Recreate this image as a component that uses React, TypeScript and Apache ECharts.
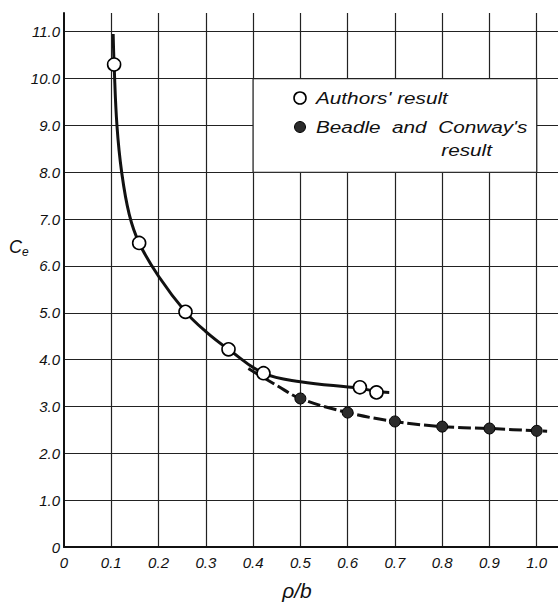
import React, { useEffect, useRef } from "react";
import * as echarts from "echarts";

// Open circles: authors' result
const authorsX = [0.106, 0.159, 0.257, 0.348, 0.422, 0.626, 0.661];
const authorsY = [10.3, 6.49, 5.02, 4.22, 3.71, 3.41, 3.3];
// Filled circles: Beadle and Conway's result
const beadleX = [0.5, 0.6, 0.7, 0.8, 0.9, 1.0];
const beadleY = [3.17, 2.87, 2.68, 2.57, 2.53, 2.48];
// Solid curve through the authors' points
const solidCurveX = [0.104, 0.106, 0.112, 0.122, 0.138, 0.159, 0.2, 0.257, 0.3, 0.348, 0.422, 0.5, 0.626, 0.661, 0.688];
const solidCurveY = [10.95, 10.3, 9.0, 8.0, 7.1, 6.49, 5.78, 5.02, 4.6, 4.22, 3.71, 3.53, 3.39, 3.32, 3.3];
// Dashed curve through Beadle and Conway's points
const dashedCurveX = [0.39, 0.45, 0.5, 0.6, 0.7, 0.8, 0.9, 1.0, 1.022];
const dashedCurveY = [3.81, 3.45, 3.17, 2.87, 2.68, 2.57, 2.53, 2.48, 2.47];
// Axis ranges
const xRange = [0, 1.045];
const yRange = [0, 11.4];
const xStep = 0.1;
const yStep = 1;
// Legend labels
const legendLabels = ["Authors' result", "Beadle  and  Conway's", "result"];
const xAxisName = "ρ/b";

const zip = (xs: number[], ys: number[]) => xs.map((x, i) => [x, ys[i]]);

const FONT = "'Liberation Sans', Arial, sans-serif";
const INK = "#111";

export default function App() {
  const ref = useRef<HTMLDivElement>(null);
  useEffect(() => {
    if (!ref.current) return;
    const chart = echarts.init(ref.current, null, { renderer: "svg" });
    const fmt = (v: number) => (Math.abs(v) < 1e-9 ? "0" : v.toFixed(1));
    const legendText = (text: string, x: number, y: number, align: string) => ({
      type: "text",
      x,
      y,
      scaleX: 1.22,
      z: 10,
      style: {
        text,
        fontFamily: FONT,
        fontStyle: "italic",
        fontSize: 17,
        fill: INK,
        textAlign: align,
        textVerticalAlign: "middle",
      },
    });
    chart.setOption({
      animation: false,
      backgroundColor: "#fff",
      grid: { left: 64, top: 13, right: 0, bottom: 55 },
      xAxis: {
        type: "value",
        min: xRange[0],
        max: xRange[1],
        interval: xStep,
        axisLine: { show: true, onZero: false, lineStyle: { color: INK, width: 2 } },
        axisTick: { show: false },
        axisLabel: {
          showMaxLabel: false,
          formatter: fmt,
          fontFamily: FONT,
          fontStyle: "italic",
          fontSize: 15,
          color: INK,
          margin: 8,
        },
        splitLine: { show: true, showMinLine: false, showMaxLine: false, lineStyle: { color: "#222", width: 1.2 } },
      },
      yAxis: {
        type: "value",
        min: yRange[0],
        max: yRange[1],
        interval: yStep,
        axisLine: { show: true, onZero: false, lineStyle: { color: INK, width: 2 } },
        axisTick: { show: false },
        axisLabel: {
          showMaxLabel: false,
          formatter: fmt,
          fontFamily: FONT,
          fontStyle: "italic",
          fontSize: 15,
          color: INK,
          margin: 4,
        },
        splitLine: { show: true, showMinLine: false, showMaxLine: false, lineStyle: { color: "#222", width: 1.2 } },
      },
      series: [
        {
          type: "line",
          data: zip(solidCurveX, solidCurveY),
          smooth: 0.4,
          symbol: "none",
          lineStyle: { color: INK, width: 3 },
          z: 3,
          markArea: {
            silent: true,
            itemStyle: { color: "#fff", borderColor: "#222", borderWidth: 1.2, opacity: 1 },
            data: [[{ coord: [0.4, 10] }, { coord: [1.0, 8] }]],
          },
        },
        {
          type: "line",
          data: zip(dashedCurveX, dashedCurveY),
          smooth: 0.4,
          symbol: "none",
          lineStyle: { color: INK, width: 3, type: [13, 4] },
          z: 3,
        },
        {
          type: "scatter",
          data: zip(beadleX, beadleY),
          symbol: "circle",
          symbolSize: 11,
          itemStyle: { color: "#2b2b2b", borderColor: "#000", borderWidth: 1, opacity: 1 },
          z: 4,
        },
        {
          type: "scatter",
          data: zip(authorsX, authorsY),
          symbol: "circle",
          symbolSize: 13,
          itemStyle: { color: "#fff", borderColor: "#000", borderWidth: 1.6, opacity: 1 },
          z: 5,
        },
      ],
      graphic: [
        {
          type: "text",
          left: 9,
          top: 238,
          style: {
            text: "{a|C}{b|e}",
            rich: {
              a: { fontFamily: FONT, fontStyle: "italic", fontSize: 18, fill: INK },
              b: { fontFamily: FONT, fontStyle: "italic", fontSize: 12, fill: INK, padding: [9, 0, 0, 0] },
            },
          },
        },
        {
          type: "text",
          x: 297,
          y: 590,
          style: {
            text: xAxisName,
            fontFamily: FONT,
            fontStyle: "italic",
            fontSize: 21,
            fill: INK,
            textAlign: "center",
            textVerticalAlign: "middle",
          },
        },
        {
          type: "circle",
          shape: { cx: 300, cy: 98, r: 6 },
          style: { fill: "#fff", stroke: "#000", lineWidth: 1.6 },
          z: 10,
        },
        {
          type: "circle",
          shape: { cx: 300, cy: 127, r: 5.5 },
          style: { fill: "#2b2b2b", stroke: "#000", lineWidth: 1 },
          z: 10,
        },
        legendText(legendLabels[0], 316, 98, "left"),
        legendText(legendLabels[1], 316, 127, "left"),
        legendText(legendLabels[2], 492, 150, "right"),
      ],
    });
    return () => chart.dispose();
  }, []);
  return (
    <div
      ref={ref}
      style={{ position: "fixed", left: 0, top: 0, width: 558, height: 602, background: "#fff" }}
    />
  );
}
